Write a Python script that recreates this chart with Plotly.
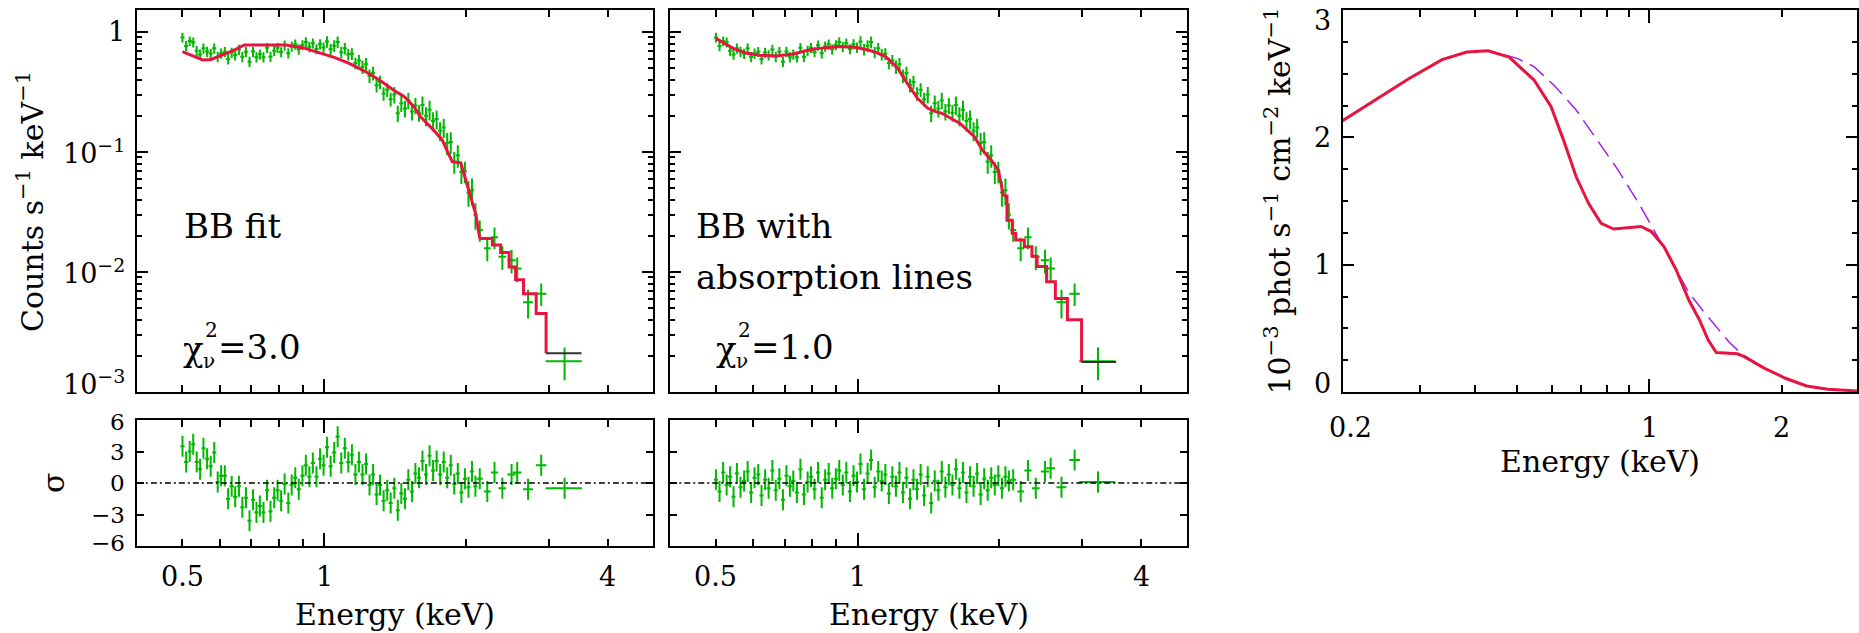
import math
import plotly.graph_objects as go

W, H = 1859, 633
GREEN = '#00b800'
RED = '#e8133f'
PURPLE = '#a020f0'
FONT = 'DejaVu Serif'

# ---------------- data: observed spectrum (same data in both fits) ----------------
energy = [0.500, 0.509, 0.518, 0.527, 0.536, 0.545, 0.554, 0.564, 0.574, 0.584,
          0.594, 0.604, 0.615, 0.625, 0.636, 0.647, 0.659, 0.670, 0.682, 0.694,
          0.706, 0.718, 0.730, 0.743, 0.756, 0.769, 0.783, 0.796, 0.810, 0.824,
          0.839, 0.853, 0.868, 0.883, 0.899, 0.914, 0.930, 0.946, 0.963, 0.980,
          0.997, 1.014, 1.032, 1.050, 1.068, 1.087, 1.106, 1.125, 1.145, 1.165,
          1.185, 1.206, 1.227, 1.248, 1.270, 1.292, 1.314, 1.337, 1.361, 1.384,
          1.409, 1.433, 1.458, 1.484, 1.509, 1.536, 1.562, 1.590, 1.617, 1.645,
          1.674, 1.703, 1.733, 1.763, 1.794, 1.825, 1.857, 1.889, 1.922, 1.956,
          1.990, 2.025, 2.060, 2.095]
counts = [0.900, 0.765, 0.840, 0.820, 0.696, 0.650, 0.730, 0.686, 0.661, 0.731,
          0.620, 0.663, 0.684, 0.595, 0.674, 0.641, 0.714, 0.621, 0.685, 0.566,
          0.686, 0.616, 0.651, 0.616, 0.739, 0.622, 0.698, 0.739, 0.681, 0.774,
          0.665, 0.758, 0.789, 0.716, 0.779, 0.823, 0.752, 0.805, 0.721, 0.791,
          0.744, 0.831, 0.716, 0.767, 0.824, 0.679, 0.730, 0.649, 0.658, 0.550,
          0.579, 0.513, 0.537, 0.431, 0.454, 0.360, 0.382, 0.307, 0.330, 0.275,
          0.301, 0.210, 0.255, 0.230, 0.269, 0.217, 0.244, 0.212, 0.246, 0.200,
          0.225, 0.181, 0.188, 0.150, 0.160, 0.119, 0.121, 0.083, 0.094, 0.068,
          0.069, 0.046, 0.048, 0.030]
count_err = [0.085, 0.074, 0.077, 0.078, 0.068, 0.064, 0.072, 0.066, 0.065, 0.072,
             0.061, 0.065, 0.066, 0.059, 0.066, 0.062, 0.070, 0.061, 0.066, 0.055,
             0.066, 0.060, 0.064, 0.060, 0.072, 0.061, 0.068, 0.072, 0.066, 0.075,
             0.065, 0.074, 0.077, 0.070, 0.075, 0.081, 0.073, 0.078, 0.070, 0.077,
             0.073, 0.092, 0.079, 0.085, 0.091, 0.075, 0.081, 0.072, 0.073, 0.061,
             0.064, 0.066, 0.070, 0.056, 0.059, 0.047, 0.049, 0.040, 0.043, 0.036,
             0.047, 0.033, 0.040, 0.036, 0.042, 0.034, 0.038, 0.033, 0.044, 0.036,
             0.042, 0.033, 0.034, 0.027, 0.029, 0.025, 0.025, 0.017, 0.020, 0.014,
             0.014, 0.011, 0.012, 0.0074]
resid_bb = [3.5, 2.0, 3.0, 3.7, 2.0, 1.3, 3.3, 2.3, 1.6, 2.9,
            0.1, 0.7, 0.7, -1.5, -0.3, -1.3, -0.3, -2.3, -1.4, -3.6,
            -1.6, -2.8, -2.2, -2.8, -0.7, -2.7, -1.4, -0.7, -1.7, -0.1,
            -1.9, -0.2, 0.5, -0.6, 0.7, 1.7, 0.6, 1.9, 0.6, 2.3,
            1.7, 3.4, 1.6, 2.9, 4.4, 1.9, 3.3, 2.0, 2.7, 0.8,
            2.0, 0.8, 1.8, -0.2, 0.8, -1.1, -0.2, -1.7, -0.7, -1.9,
            -0.5, -2.6, -1.0, -1.5, 0.3, -0.8, 0.9, 0.5, 2.1, 0.8,
            2.6, 1.2, 2.1, 0.8, 2.0, 0.5, 1.7, -0.1, 0.9, -0.9,
            0.4, -0.4, 1.1, -0.3]
resid_bbabs = [0.3, -0.8, 1.0, -0.2, 0.6, -1.3, 0.9, -0.4, 0.2, 1.1,
               -0.9, 0.5, 0.8, -1.2, 0.3, -0.5, 1.2, -0.7, 0.4, -1.6,
               0.7, -0.3, 0.2, -0.9, 1.3, -1.1, 0.1, 0.6, -0.6, 1.0,
               -1.4, 0.3, 0.9, -0.5, 0.4, 1.2, -0.2, 1.0, -0.8, 0.7,
               0.1, 1.8, -0.6, 0.9, 2.2, -0.4, 1.1, 0.2, 0.8, -1.0,
               0.6, -0.3, 1.0, -0.9, 0.5, -1.5, 0.3, -0.6, 0.8, -1.2,
               0.6, -1.9, 0.2, -0.7, 1.1, -0.4, 0.8, -0.2, 1.3, -0.5,
               1.0, -0.9, 0.6, -0.3, 0.9, -1.1, 0.4, -0.7, 0.5, -0.2,
               0.7, -0.5, 0.6, 0.2]

# wide high-energy bins
hi_energy = [2.14, 2.22, 2.30, 2.39, 2.50, 2.57, 2.71, 2.89, 3.24]
hi_halfwidth = [0.032, 0.037, 0.040, 0.045, 0.050, 0.055, 0.065, 0.075, 0.285]
hi_counts = [0.0224, 0.0158, 0.0195, 0.0134, 0.0125, 0.0107, 0.0056, 0.0066, 0.0018]
hi_err = [0.0045, 0.0035, 0.0040, 0.0030, 0.0028, 0.0025, 0.0015, 0.0014, 0.00055]
hi_resid_bb = [0.4, -0.8, 1.0, -0.5, 0.8, 1.0, -0.6, 1.7, -0.5]
hi_resid_bbabs = [0.3, -0.8, 1.2, -0.5, 1.1, 1.4, -0.4, 2.2, 0.1]

# ---------------- folded models ----------------
bb_E = [0.50, 0.52, 0.552, 0.575, 0.60, 0.64, 0.677, 0.72, 0.83, 0.90,
        0.962, 1.05, 1.13, 1.22, 1.31, 1.40, 1.48, 1.55, 1.60, 1.70,
        1.78, 1.83, 1.87, 1.95, 2.0, 2.05, 2.10, 2.14]
bb_C = [0.685, 0.64, 0.585, 0.59, 0.63, 0.70, 0.78, 0.78, 0.78, 0.74,
        0.685, 0.615, 0.548, 0.47, 0.398, 0.33, 0.289, 0.24, 0.197, 0.155,
        0.126, 0.10, 0.083, 0.081, 0.058, 0.042, 0.030, 0.019]
bb_step_E = [2.14, 2.276, 2.37, 2.47, 2.55, 2.65, 2.82, 2.96]
bb_step_C = [0.019, 0.0168, 0.0145, 0.011, 0.0086, 0.0066, 0.0045, 0.0021]
bb_last_bin = [2.96, 3.52]

abs_E = [0.50, 0.544, 0.582, 0.62, 0.67, 0.73, 0.78, 0.825, 0.916, 0.98,
         1.05, 1.10, 1.146, 1.21, 1.275, 1.34, 1.41, 1.46, 1.51, 1.58,
         1.65, 1.77, 1.84, 1.92, 1.99, 2.04]
abs_C = [0.885, 0.73, 0.664, 0.64, 0.63, 0.656, 0.70, 0.73, 0.755, 0.75,
         0.71, 0.67, 0.623, 0.514, 0.373, 0.28, 0.231, 0.218, 0.21, 0.19,
         0.173, 0.134, 0.104, 0.0858, 0.0708, 0.043]
abs_step_E = [2.04, 2.076, 2.13, 2.167, 2.26, 2.345, 2.405, 2.52, 2.63, 2.79, 2.99]
abs_step_C = [0.043, 0.027, 0.021, 0.0185, 0.0162, 0.0135, 0.0111, 0.0083, 0.006, 0.004, 0.00178]
abs_last_bin = [2.99, 3.54]

# ---------------- unfolded model (right panel), units of 1e-3 ----------------
cont_E = [0.2, 0.237, 0.283, 0.337, 0.384, 0.429, 0.5, 0.546, 0.61, 0.681,
          0.76, 0.848, 0.946, 1.01, 1.08, 1.15, 1.23, 1.33, 1.45, 1.52,
          1.62, 1.83, 2.04, 2.28, 2.55, 2.9, 3.0]
cont_flux = [2.13, 2.29, 2.46, 2.61, 2.67, 2.68, 2.62, 2.555, 2.40, 2.215,
             1.98, 1.744, 1.48, 1.31, 1.13, 0.96, 0.78, 0.63, 0.47, 0.39,
             0.30, 0.186, 0.108, 0.047, 0.021, 0.01, 0.008]
line_E = [0.2, 0.237, 0.283, 0.337, 0.384, 0.429, 0.479, 0.546, 0.597, 0.637,
          0.681, 0.727, 0.776, 0.829, 0.886, 0.957, 1.01, 1.08, 1.15, 1.23,
          1.30, 1.36, 1.42, 1.585, 1.64, 1.83, 2.04, 2.28, 2.55, 2.9, 3.0]
line_flux = [2.13, 2.29, 2.46, 2.61, 2.67, 2.68, 2.63, 2.45, 2.24, 1.98,
             1.69, 1.48, 1.325, 1.28, 1.29, 1.30, 1.26, 1.14, 0.96, 0.72,
             0.566, 0.41, 0.31, 0.30, 0.28, 0.186, 0.108, 0.047, 0.021, 0.01, 0.008]

# ---------------- tick labels ----------------
energy_label_vals = [0.5, 1, 4]
energy_label_text = ['0.5', '1', '4']
energy_major = [1]
energy_minor = [0.5, 0.6, 0.7, 0.8, 0.9, 2, 3, 4]
count_label_vals = [1e-3, 1e-2, 1e-1, 1]
count_label_text = ['10<sup>\u22123</sup>', '10<sup>\u22122</sup>', '10<sup>\u22121</sup>', '1']
sigma_vals = [-6, -3, 0, 3, 6]
sigma_text = ['\u22126', '\u22123', '0', '3', '6']
flux_E_label_vals = [0.2, 1, 2]
flux_E_label_text = ['0.2', '1', '2']
flux_E_minor = [0.3, 0.4, 0.5, 0.6, 0.7, 0.8, 0.9, 2]
flux_vals = [0, 1, 2, 3]
flux_text = ['0', '1', '2', '3']

# ---------------- geometry (pixels) ----------------
P1X, P2X, P3X = (137, 654), (671, 1188), (1344, 1859)
TOPY, RESY = (10, 392), (420, 546)


def xdom(p):
    return [p[0] / W, p[1] / W]


def ydom(p):
    return [1 - p[1] / H, 1 - p[0] / H]


def base_axis(**kw):
    d = dict(showline=True, linecolor='black', linewidth=2, mirror='ticks',
             ticks='inside', tickcolor='black', tickwidth=2, showgrid=False,
             zeroline=False, showticklabels=False, fixedrange=True)
    d.update(kw)
    return d


def minor(vals, ln):
    return dict(tickvals=vals, ticks='inside', ticklen=ln, tickwidth=2,
                tickcolor='black', showgrid=False)


count_minor = [k * 10.0 ** d for d in (-3, -2, -1, 0) for k in range(2, 10) if k * 10.0 ** d < 1.5]

E_RANGE = [math.log10(0.4), math.log10(5.0)]
C_RANGE = [-3, 0.183]

fig = go.Figure()

err_style = dict(color=GREEN, thickness=2.0, width=0)


def add_data(xa, ya, y, yerr_dense, hi_y, hi_yerr):
    fig.add_trace(go.Scatter(x=energy, y=y, mode='markers', xaxis=xa, yaxis=ya,
                             marker=dict(size=1, color=GREEN),
                             error_y=(dict(type='data', array=yerr_dense, **err_style)
                                      if yerr_dense is not None else
                                      dict(type='constant', value=1, **err_style)),
                             error_x=dict(type='percent', value=1.0, **err_style)))
    fig.add_trace(go.Scatter(x=hi_energy, y=hi_y, mode='markers', xaxis=xa, yaxis=ya,
                             marker=dict(size=1, color=GREEN),
                             error_y=(dict(type='data', array=hi_yerr, **err_style)
                                      if hi_yerr is not None else
                                      dict(type='constant', value=1, **err_style)),
                             error_x=dict(type='data', array=hi_halfwidth, **err_style)))


def add_model(xa, ya, mE, mC, sE, sC, last):
    fig.add_trace(go.Scatter(x=mE, y=mC, mode='lines', xaxis=xa, yaxis=ya,
                             line=dict(color=RED, width=3)))
    fig.add_trace(go.Scatter(x=sE, y=sC, mode='lines', xaxis=xa, yaxis=ya,
                             line=dict(color=RED, width=3, shape='hv')))
    fig.add_trace(go.Scatter(x=last, y=[sC[-1]] * len(last), mode='lines', xaxis=xa, yaxis=ya,
                             line=dict(color='#303030', width=2)))


# panel 1 (BB fit)
add_data('x', 'y', counts, count_err, hi_counts, hi_err)
add_model('x', 'y', bb_E, bb_C, bb_step_E, bb_step_C, bb_last_bin)
add_data('x2', 'y2', resid_bb, None, hi_resid_bb, None)
# panel 2 (BB with lines)
add_data('x3', 'y3', counts, count_err, hi_counts, hi_err)
add_model('x3', 'y3', abs_E, abs_C, abs_step_E, abs_step_C, abs_last_bin)
add_data('x4', 'y4', resid_bbabs, None, hi_resid_bbabs, None)
# panel 3 (unfolded model)
fig.add_trace(go.Scatter(x=cont_E, y=cont_flux, mode='lines', xaxis='x5', yaxis='y5',
                         line=dict(color=PURPLE, width=1.5, dash='18px,8px')))
fig.add_trace(go.Scatter(x=line_E, y=line_flux, mode='lines', xaxis='x5', yaxis='y5',
                         line=dict(color=RED, width=3)))

xE_kw = dict(type='log', range=E_RANGE, tickvals=energy_major, ticklen=13,
             minor=minor(energy_minor, 7))
yC_kw = dict(type='log', range=C_RANGE, tickvals=count_label_vals, ticklen=11,
             minor=minor(count_minor, 5))
yR_kw = dict(range=[-6, 6], tickvals=sigma_vals, ticklen=7)

fig.update_layout(
    width=W, height=H, autosize=False, showlegend=False,
    margin=dict(l=0, r=0, t=0, b=0, pad=0),
    paper_bgcolor='white', plot_bgcolor='white',
    font=dict(family=FONT, color='black', size=27),
    xaxis=base_axis(domain=xdom(P1X), anchor='y', **xE_kw),
    yaxis=base_axis(domain=ydom(TOPY), anchor='x', **yC_kw),
    xaxis2=base_axis(domain=xdom(P1X), anchor='y2', **xE_kw),
    yaxis2=base_axis(domain=ydom(RESY), anchor='x2', **yR_kw),
    xaxis3=base_axis(domain=xdom(P2X), anchor='y3', **xE_kw),
    yaxis3=base_axis(domain=ydom(TOPY), anchor='x3', **yC_kw),
    xaxis4=base_axis(domain=xdom(P2X), anchor='y4', **xE_kw),
    yaxis4=base_axis(domain=ydom(RESY), anchor='x4', **yR_kw),
    xaxis5=base_axis(domain=xdom(P3X), anchor='y5', type='log',
                     range=[math.log10(0.2), math.log10(2.97)], tickvals=[1], ticklen=13,
                     minor=minor(flux_E_minor, 7)),
    yaxis5=base_axis(domain=ydom(TOPY), anchor='x5', range=[0, 3], tickvals=flux_vals,
                     ticklen=11, minor=dict(dtick=0.25, ticks='inside', ticklen=5,
                                            tickwidth=2, tickcolor='black', showgrid=False)),
)

# dotted zero lines in residual panels
for xr, yr in (('x2', 'y2'), ('x4', 'y4')):
    fig.add_shape(type='line', xref=xr + ' domain', x0=0, x1=1, yref=yr, y0=0, y1=0,
                  line=dict(color='black', width=1.5, dash='6px,3px,2px,3px'))

ann = []


def txt(text, x, y, size=27, xanchor='center', yanchor='middle', angle=0, **kw):
    d = dict(text=text, x=x, y=y, showarrow=False, xanchor=xanchor, yanchor=yanchor,
             textangle=angle, font=dict(family=FONT, size=size, color='black'))
    d.setdefault('xref', 'paper')
    d.setdefault('yref', 'paper')
    d.update(kw)
    ann.append(d)


# x tick labels below residual panels
for xr in ('x2', 'x4'):
    for v, t in zip(energy_label_vals, energy_label_text):
        txt(t, math.log10(v), 1 - 576 / H, xref=xr)
# x tick labels of right panel
for v, t in zip(flux_E_label_vals, flux_E_label_text):
    txt(t, math.log10(v), 1 - 428 / H, xref='x5', xshift=8 if v == flux_E_label_vals[0] else 0)

# y tick labels
for v, t in zip(count_label_vals, count_label_text):
    txt(t, P1X[0] / W, math.log10(v), xanchor='right', yref='y', xshift=-10,
        yshift=10 if v == count_label_vals[0] else 0)
for v, t in zip(sigma_vals, sigma_text):
    sh = 3 if v == sigma_vals[0] else (-2 if v == sigma_vals[-1] else 0)
    txt(t, P1X[0] / W, v, size=23, xanchor='right', yref='y2', xshift=-10, yshift=sh)
for v, t in zip(flux_vals, flux_text):
    sh = 9 if v == flux_vals[0] else (-11 if v == flux_vals[-1] else 0)
    txt(t, P3X[0] / W, v, xanchor='right', yref='y5', xshift=-10, yshift=sh)

# axis titles
txt('Energy (keV)', (P1X[0] + P1X[1]) / 2 / W, 1 - 614 / H, size=30)
txt('Energy (keV)', (P2X[0] + P2X[1]) / 2 / W, 1 - 614 / H, size=30)
txt('Energy (keV)', 1602 / W, 1 - 461 / H, size=30)
txt('Counts s<sup>\u22121</sup> keV<sup>\u22121</sup>', 30 / W, 1 - 201 / H, size=30, angle=-90)
txt('\u03c3', 53 / W, 1 - 483 / H, size=30, angle=-90)
txt('10<sup>\u22123</sup> phot s<sup>\u22121</sup> cm<sup>\u22122</sup> keV<sup>\u22121</sup>',
    1279 / W, 1 - 201 / H, size=30, angle=-90)

# in-panel labels
txt('BB fit', 182 / W, 1 - 226 / H, size=34, xanchor='left')
txt('BB with', 695 / W, 1 - 226 / H, size=34, xanchor='left')
txt('absorption lines', 695 / W, 1 - 277 / H, size=34, xanchor='left')
for x0, val in ((181, '=3.0'), (715, '=1.0')):
    txt('\u03c7', x0 / W, 1 - 349 / H, size=34, xanchor='left')
    txt('2', (x0 + 22) / W, 1 - 330 / H, size=20, xanchor='left')
    txt('\u03bd', (x0 + 20) / W, 1 - 361 / H, size=20, xanchor='left')
    txt(val, (x0 + 35) / W, 1 - 347 / H, size=34, xanchor='left')

fig.update_layout(annotations=ann)
fig.write_html('out.html')
